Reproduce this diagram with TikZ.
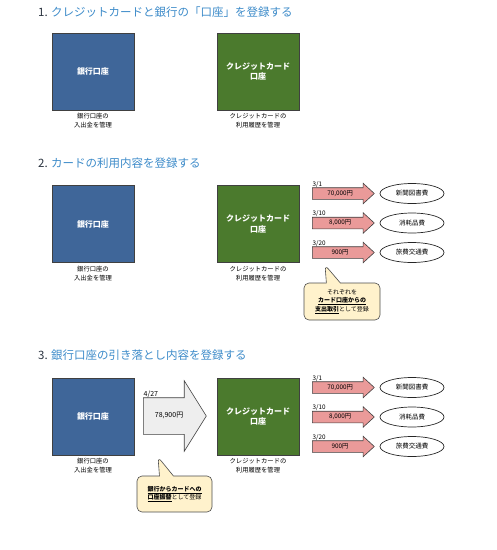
\documentclass[tikz,border=0pt]{standalone}
\usepackage{fontspec}
\newfontfamily\jp{Noto Sans CJK JP}
\usepackage{xcolor}
\usepackage{tikz}
\usetikzlibrary{shapes,arrows.meta,positioning}
\definecolor{bankblue}{HTML}{3F6699}
\definecolor{cardgreen}{HTML}{4B7A2D}
\definecolor{flowpink}{HTML}{EA9A99}
\definecolor{notefill}{HTML}{FFF2CC}
\definecolor{titleblue}{HTML}{3D8BC9}
\definecolor{titledark}{HTML}{2B3440}
\definecolor{movegray}{HTML}{EEEEEE}

\begin{document}
\begin{tikzpicture}[x=1pt,y=-1pt,
  sechead/.style={anchor=west,inner sep=0,text=titleblue,font=\jp\fontsize{11.5}{14}\selectfont},
  acct/.style={draw=black!75,line width=0.8pt,minimum width=82pt,minimum height=77pt,
    text=white,align=center,font=\jp\bfseries\fontsize{8}{10.5}\selectfont},
  acctcap/.style={align=center,inner sep=0,font=\jp\fontsize{6.3}{9}\selectfont},
  flow/.style={single arrow,draw=black!75,line width=0.6pt,fill=flowpink,anchor=tail,
    single arrow head extend=4.5pt,single arrow tip angle=85,minimum height=62pt,
    text height=5pt,text depth=1.5pt,inner ysep=2.25pt,font=\jp\fontsize{6.3}{8}\selectfont},
  datelbl/.style={anchor=south west,inner sep=0.5pt,font=\jp\fontsize{6.3}{8}\selectfont},
  catnode/.style={ellipse,draw=black!85,line width=0.7pt,minimum width=64pt,minimum height=20pt,
    font=\jp\fontsize{6.5}{8}\selectfont},
  notebox/.style={rectangle callout,draw=black!70,line width=0.6pt,fill=notefill,rounded corners=5pt,
    callout pointer width=14pt,align=center,font=\jp\fontsize{6}{8.5}\selectfont}]
\useasboundingbox(0,0)rectangle(497,550);

% 1
\node[sechead](h1)at(38,12){\textcolor{titledark}{1.} クレジットカードと銀行の「口座」を登録する};
\node[acct,fill=bankblue](bank1)at(93,71.5){銀行口座};
\node[acct,fill=cardgreen](card1)at(258,71.5){クレジットカード\\口座};
\node[acctcap,below=3pt of bank1](bcap1){銀行口座の\\入出金を管理};
\node[acctcap,below=3pt of card1](ccap1){クレジットカードの\\利用履歴を管理};

% 2
\node[sechead](h2)at(38,163){\textcolor{titledark}{2.} カードの利用内容を登録する};
\node[acct,fill=bankblue](bank2)at(93,224){銀行口座};
\node[acct,fill=cardgreen](card2)at(258,224){クレジットカード\\口座};
\node[acctcap,below=3pt of bank2](bcap2){銀行口座の\\入出金を管理};
\node[acctcap,below=3pt of card2](ccap2){クレジットカードの\\利用履歴を管理};

% 3
\node[sechead](h3)at(38,355){\textcolor{titledark}{3.} 銀行口座の引き落とし内容を登録する};
\node[acct,fill=bankblue](bank3)at(93,416.5){銀行口座};
\node[acct,fill=cardgreen](card3)at(258,416.5){クレジットカード\\口座};
\node[acctcap,below=3pt of bank3](bcap3){銀行口座の\\入出金を管理};
\node[acctcap,below=3pt of card3](ccap3){クレジットカードの\\利用履歴を管理};
\node[single arrow,draw=black!75,line width=0.6pt,fill=movegray,anchor=tail,
  single arrow head extend=17pt,single arrow tip angle=116,minimum height=63pt,
  text height=5pt,text depth=1.5pt,inner ysep=14.75pt,inner xsep=4pt,
  font=\jp\fontsize{7}{8}\selectfont](move)at(143,416){78,900円};
\node[datelbl,font=\jp\fontsize{7}{8}\selectfont](moveday)at(143,398){4/27};

% card usage rows
\foreach \s/\yc in {2/223,3/417}{
  \foreach \i/\dy/\d/\amt/\c in {1/-29.5/{3/1}/{70,000円}/新聞図書費,
                                 2/0/{3/10}/{8,000円}/消耗品費,
                                 3/29.5/{3/20}/{900円}/旅費交通費}{
    \node[flow](amt\s\i)at(312,\yc+\dy){\amt};
    \node[datelbl](day\s\i)at(312,\yc+\dy-5.5){\d};
    \node[catnode](cat\s\i)at(412,\yc+\dy){\c};
  }
}

% notes
\node[notebox,minimum width=76pt,minimum height=37pt,callout absolute pointer={(325,265)}](note2)
  at(342,301.5){それぞれを\\\underline{\textbf{カード口座からの}}\\\underline{\textbf{支出取引}}として登録};
\node[notebox,minimum width=75pt,minimum height=36pt,callout absolute pointer={(158,457)}](note3)
  at(174.5,494){\underline{\textbf{銀行からカードへの}}\\\underline{\textbf{口座振替}}として登録};
\end{tikzpicture}
\end{document}
